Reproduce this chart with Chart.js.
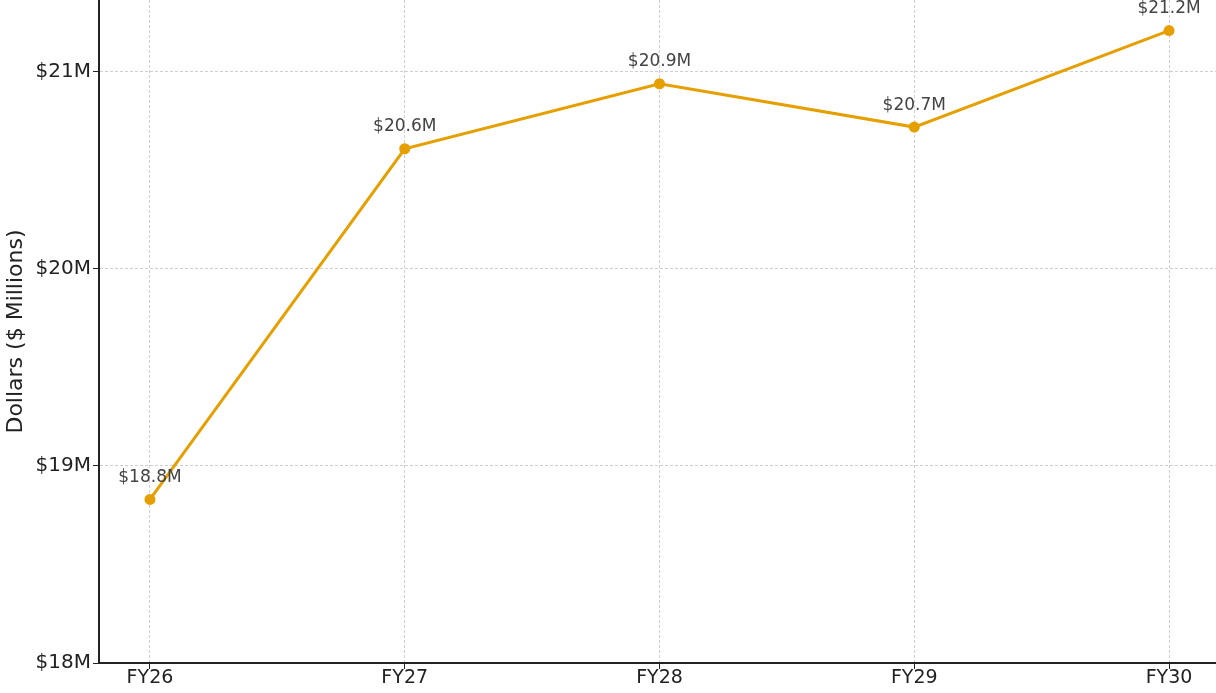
<!DOCTYPE html>
<html>
<head>
<meta charset="utf-8">
<script src="https://cdn.jsdelivr.net/npm/chart.js@4.4.1/dist/chart.umd.min.js"></script>
<style>
  html, body { margin: 0; padding: 0; background: #fff; overflow: hidden; }
  #wrap { position: absolute; left: 0; top: 0; width: 1220px; height: 693px; }
</style>
</head>
<body>
<div id="wrap"><canvas id="budgetChart"></canvas></div>
<script>
const years = ['FY26', 'FY27', 'FY28', 'FY29', 'FY30'];
const dollars = [18.83, 20.61, 20.94, 20.72, 21.21];
const yTicks = [18, 19, 20, 21];

const lineColor = '#E69F00';
const fontFamily = "'DejaVu Sans', sans-serif";

// value labels above each point
const pointLabelPlugin = {
    id: 'pointLabels',
    afterDatasetsDraw(chart) {
        const ctx = chart.ctx;
        const meta = chart.getDatasetMeta(0);
        ctx.save();
        ctx.font = '17px ' + fontFamily;
        ctx.fillStyle = '#444';
        ctx.textAlign = 'center';
        ctx.textBaseline = 'middle';
        meta.data.forEach((pt, i) => {
            ctx.fillText('$' + dollars[i].toFixed(1) + 'M', pt.x, pt.y - 22);
        });
        ctx.restore();
    }
};

const ctx = document.getElementById('budgetChart').getContext('2d');
new Chart(ctx, {
    type: 'line',
    data: {
        datasets: [{
            data: dollars.map((v, i) => ({ x: i, y: v })),
            borderColor: lineColor,
            backgroundColor: lineColor,
            borderWidth: 3,
            pointRadius: 5.5,
            pointHoverRadius: 5.5,
            pointBorderWidth: 0,
            tension: 0
        }]
    },
    options: {
        animation: false,
        responsive: true,
        maintainAspectRatio: false,
        layout: { padding: 0, autoPadding: false },
        plugins: { legend: { display: false }, tooltip: { enabled: false } },
        scales: {
            x: {
                type: 'linear',
                min: -0.2,
                max: 4.2,
                afterBuildTicks: scale => { scale.ticks = years.map((_, i) => ({ value: i })); },
                afterFit: scale => { scale.height = 30; scale.paddingLeft = 0; scale.paddingRight = 0; },
                ticks: {
                    callback: v => years[v],
                    color: '#222',
                    font: { family: fontFamily, size: 19 },
                    padding: -2,
                    maxRotation: 0
                },
                grid: { color: '#cfcfcf', tickColor: '#222', tickLength: 6, tickBorderDash: [] },
                border: { color: '#222', width: 2, dash: [3, 2] }
            },
            y: {
                min: 18,
                max: 21.365,
                afterBuildTicks: scale => { scale.ticks = yTicks.map(v => ({ value: v })); },
                afterFit: scale => { scale.width = 99; scale.paddingTop = 0; scale.paddingBottom = 0; },
                title: {
                    display: true,
                    text: 'Dollars ($ Millions)',
                    color: '#222',
                    font: { family: fontFamily, size: 22 },
                    padding: { top: 3, bottom: 3 }
                },
                ticks: {
                    callback: v => '$' + v + 'M',
                    color: '#222',
                    font: { family: fontFamily, size: 20 },
                    padding: 2
                },
                grid: { color: '#cfcfcf', tickColor: '#222', tickLength: 6, tickBorderDash: [] },
                border: { color: '#222', width: 2, dash: [3, 2] }
            }
        }
    },
    plugins: [pointLabelPlugin]
});
</script>
</body>
</html>
